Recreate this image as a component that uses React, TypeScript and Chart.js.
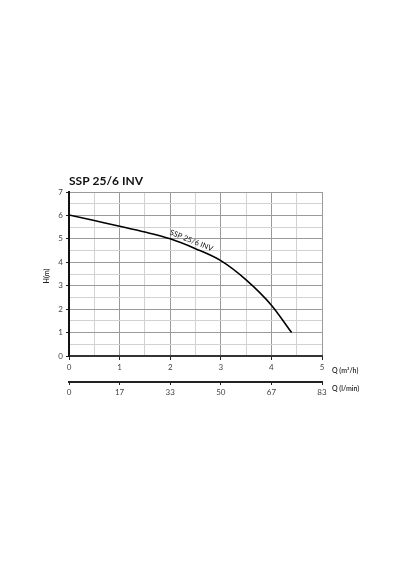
import { useEffect, useRef } from "react";
import { Chart, registerables } from "chart.js";

Chart.register(...registerables);

// pump curve SSP 25/6 INV
const flowM3h = [0, 0.5, 1, 1.5, 2, 2.5, 3, 3.5, 4, 4.4];
const headM = [6.02, 5.78, 5.54, 5.29, 5.0, 4.58, 4.07, 3.25, 2.17, 1.0];
const lpmLabels = ["0", "17", "33", "50", "67", "83"];

const chartTitle = "SSP 25/6 INV";
const curveLabel = "SSP 25/6 INV";
const yTitle = "H(m)";
const xTitle = "Q (m³/h)";
const x2Title = "Q (l/min)";

const FONT = "Lato, 'Liberation Sans', sans-serif";

const isWhole = (v: number) => Math.abs(v - Math.round(v)) < 1e-6;

export default function App() {
  const canvasRef = useRef<HTMLCanvasElement>(null);

  useEffect(() => {
    if (!canvasRef.current) return;

    // texts that chart.js can't put where the datasheet has them
    const extras = {
      id: "extras",
      afterDraw(chart: any) {
        const { ctx, chartArea, scales } = chart;
        ctx.save();
        ctx.fillStyle = "#111";
        ctx.font = `bold 12px ${FONT}`;
        ctx.textBaseline = "alphabetic";
        ctx.textAlign = "left";
        ctx.fillText(chartTitle, chartArea.left, 185);

        ctx.font = `600 7px ${FONT}`;
        ctx.fillStyle = "#222";
        ctx.textBaseline = "middle";
        ctx.fillText(xTitle, chartArea.right + 10, scales.x.top + 15);
        ctx.fillText(x2Title, chartArea.right + 10, scales.x2.top + 7);

        ctx.save();
        ctx.translate(47, (chartArea.top + chartArea.bottom) / 2 + 2);
        ctx.rotate(-Math.PI / 2);
        ctx.textAlign = "center";
        ctx.fillText(yTitle, 0, 0);
        ctx.restore();

        // label along the curve
        const px = scales.x.getPixelForValue(2.42);
        const py = scales.y.getPixelForValue(4.63);
        ctx.translate(px, py - 7);
        ctx.rotate((22 * Math.PI) / 180);
        ctx.textAlign = "center";
        ctx.font = `7.5px ${FONT}`;
        ctx.fillStyle = "#111";
        ctx.fillText(curveLabel, 0, 0);
        ctx.restore();
      },
    };

    const chart = new Chart(canvasRef.current, {
      type: "line",
      data: {
        datasets: [
          {
            data: flowM3h.map((x, i) => ({ x, y: headM[i] })),
            borderColor: "#000",
            borderWidth: 1.6,
            pointRadius: 0,
            cubicInterpolationMode: "monotone",
            xAxisID: "x",
            yAxisID: "y",
          },
        ],
      },
      options: {
        animation: false,
        responsive: false,
        devicePixelRatio: 1,
        layout: { padding: { left: 40, right: 78, top: 192, bottom: 168 } },
        plugins: {
          legend: { display: false },
          tooltip: { enabled: false },
        },
        scales: {
          x: {
            type: "linear",
            position: "bottom",
            min: 0,
            max: 5,
            afterFit: (s: any) => {
              s.height = 26;
            },
            ticks: {
              stepSize: 0.5,
              autoSkip: false,
              maxRotation: 0,
              padding: 3,
              color: "#444",
              font: { size: 8, family: FONT },
              callback: (v: any) => (isWhole(Number(v)) ? String(v) : ""),
            },
            grid: {
              color: (c: any) =>
                isWhole(c.tick.value) ? "#9a9a9a" : "#d2d2d2",
              tickColor: (c: any) =>
                isWhole(c.tick.value) ? "#222" : "rgba(0,0,0,0)",
              tickLength: 4,
              lineWidth: 1,
            },
            border: { color: "#333", width: 2 },
          },
          x2: {
            type: "linear",
            position: "bottom",
            min: 0,
            max: 5,
            afterFit: (s: any) => {
              s.height = 20;
            },
            ticks: {
              stepSize: 1,
              autoSkip: false,
              maxRotation: 0,
              padding: 3,
              color: "#444",
              font: { size: 8, family: FONT },
              callback: (_v: any, i: number) => lpmLabels[i] ?? "",
            },
            grid: {
              drawOnChartArea: false,
              tickColor: "#222",
              tickLength: 3,
            },
            border: { color: "#222", width: 2 },
          },
          y: {
            type: "linear",
            position: "left",
            min: 0,
            max: 7,
            afterFit: (s: any) => {
              s.width = 29;
            },
            ticks: {
              stepSize: 0.5,
              autoSkip: false,
              padding: 3,
              color: "#444",
              font: { size: 8, family: FONT },
              callback: (v: any) => (isWhole(Number(v)) ? String(v) : ""),
            },
            grid: {
              color: (c: any) =>
                isWhole(c.tick.value) ? "#9a9a9a" : "#d2d2d2",
              tickColor: (c: any) =>
                isWhole(c.tick.value) ? "#222" : "rgba(0,0,0,0)",
              tickLength: 3,
              lineWidth: 1,
            },
            border: { color: "#111", width: 2 },
          },
        },
      },
      plugins: [extras],
    });

    return () => {
      chart.destroy();
    };
  }, []);

  return (
    <div
      style={{
        position: "fixed",
        left: 0,
        top: 0,
        width: 400,
        height: 570,
        background: "#fff",
      }}
    >
      <canvas ref={canvasRef} width={400} height={570}></canvas>
    </div>
  );
}
